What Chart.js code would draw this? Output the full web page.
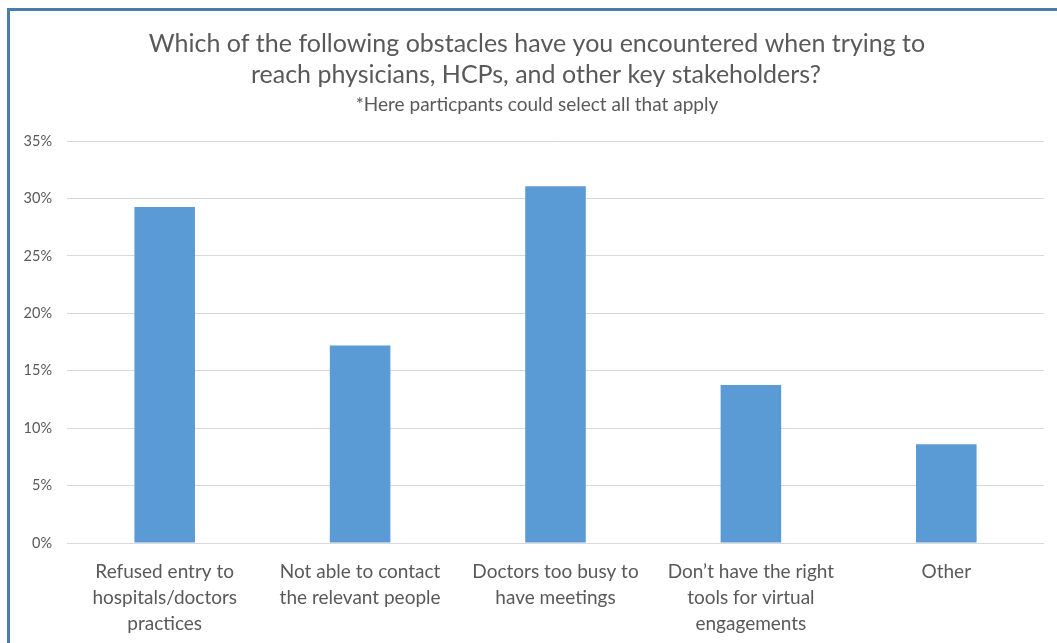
<!DOCTYPE html>
<html>
<head>
<meta charset="utf-8">
<script src="https://cdn.jsdelivr.net/npm/chart.js@4/dist/chart.umd.min.js"></script>
<style>
    html, body { margin: 0; padding: 0; background: #fff; overflow: hidden; }
    #wrap { position: relative; width: 1057px; height: 643px; }
    #frame {
        position: absolute; left: 7px; top: 8px; width: 1100px; height: 700px;
        border-top: 3px solid #4a7cb0; border-left: 3px solid #4a7cb0;
        pointer-events: none;
    }
</style>
</head>
<body>
<div id="wrap">
    <canvas id="obstaclesChart" width="1057" height="643"></canvas>
    <div id="frame"></div>
</div>
<script>
var categories = [
    ['Refused entry to', 'hospitals/doctors', 'practices'],
    ['Not able to contact', 'the relevant people'],
    ['Doctors too busy to', 'have meetings'],
    ['Don\u2019t have the right', 'tools for virtual', 'engagements'],
    'Other'
];
var shares = [29.25, 17.2, 31.05, 13.75, 8.6];
var yTicks = [0, 5, 10, 15, 20, 25, 30, 35];
var titleLines = [
    'Which of the following obstacles have you encountered when trying to',
    'reach physicians, HCPs, and other key stakeholders?'
];
var subtitleText = '*Here particpants could select all that apply';

var textGrey = '#595959';

var headerPlugin = {
    id: 'header',
    afterDraw: function (chart) {
        var ctx = chart.ctx;
        ctx.save();
        ctx.fillStyle = textGrey;
        ctx.textAlign = 'center';
        ctx.textBaseline = 'middle';
        ctx.font = '25px Lato';
        ctx.fillText(titleLines[0], 537, 44);
        ctx.fillText(titleLines[1], 536, 75);
        ctx.font = '19px Lato';
        ctx.fillText(subtitleText, 537, 105);
        ctx.restore();
    }
};

var ctx = document.getElementById('obstaclesChart').getContext('2d');
var chart = new Chart(ctx, {
    type: 'bar',
    data: {
        labels: categories,
        datasets: [{
            label: 'Share',
            data: shares,
            backgroundColor: '#5b9bd5',
            borderWidth: 0,
            categoryPercentage: 1,
            barPercentage: 0.31
        }]
    },
    options: {
        responsive: false,
        animation: false,
        layout: {
            padding: { top: 141, right: 13, left: 0, bottom: 0 }
        },
        scales: {
            x: {
                grid: { display: false },
                border: { display: false },
                ticks: {
                    color: textGrey,
                    font: { family: 'Lato', size: 19, lineHeight: 1.37 },
                    padding: 8,
                    maxRotation: 0,
                    autoSkip: false
                },
                afterFit: function (scale) { scale.height = 100; }
            },
            y: {
                min: 0,
                max: 35,
                afterBuildTicks: function (scale) {
                    scale.ticks = yTicks.map(function (v) { return { value: v }; });
                },
                grid: { color: '#d9d9d9', lineWidth: 1, drawTicks: false },
                border: { display: false },
                ticks: {
                    color: textGrey,
                    font: { family: 'Lato', size: 14.5 },
                    padding: 15,
                    callback: function (value) { return value + '%'; }
                },
                afterFit: function (scale) { scale.width = 67; }
            }
        },
        plugins: {
            legend: { display: false },
            tooltip: { enabled: false }
        }
    },
    plugins: [headerPlugin]
});
</script>
</body>
</html>
